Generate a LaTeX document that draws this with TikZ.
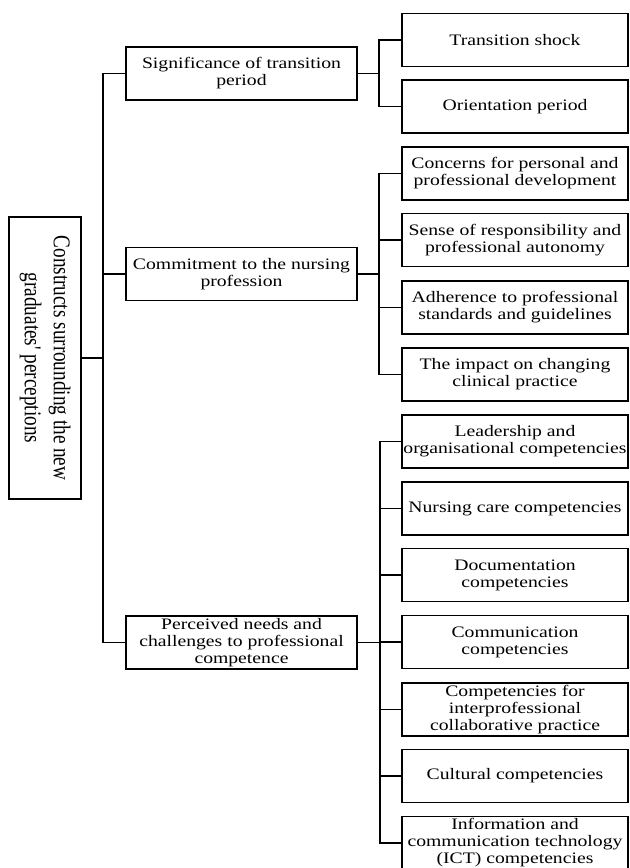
\documentclass[tikz,border=0pt]{standalone}
\usepackage{fontspec}
\setmainfont[FakeStretch=1.23]{Liberation Serif}
\newfontfamily\rootfont[FakeStretch=0.8]{Liberation Serif}
\usepackage{tikz}
\usetikzlibrary{positioning}
\tikzset{
  treebox/.style={draw,line width=1.1pt,align=center,inner sep=1pt,
    font=\fontsize{12}{12.75}\selectfont},
  rootbox/.style={treebox,rotate=-90,minimum width=211.5pt,minimum height=54pt,
    font=\rootfont\fontsize{18}{21.75}\selectfont},
  midbox/.style={treebox,minimum width=173.25pt,minimum height=40pt},
  leafbox/.style={treebox,minimum width=169.5pt,minimum height=40pt},
  branch/.style={line width=1.1pt}
}
\begin{document}
\begin{tikzpicture}[x=0.75pt,y=-0.75pt]
\useasboundingbox (0,0) rectangle (629,868);

\node[rootbox] (root) at (45,358) {Constructs surrounding the new\\graduates' perceptions};

\node[midbox] (sig) at (241.5,73.5) {Significance of transition\\period};
\node[midbox] (com) at (241.5,274) {Commitment to the nursing\\profession};
\node[midbox] (per) at (241.5,642.5) {Perceived needs and\\challenges to professional\\competence};

\node[leafbox] (shock) at (515,40) {Transition shock};
\node[leafbox] (orient) at (515,106.5) {Orientation period};

\node[leafbox] (concern) at (515,173.5) {Concerns for personal and\\professional development};
\node[leafbox] (sense) at (515,240) {Sense of responsibility and\\professional autonomy};
\node[leafbox] (adhere) at (515,307.5) {Adherence to professional\\standards and guidelines};
\node[leafbox] (impact) at (515,374.5) {The impact on changing\\clinical practice};

\node[leafbox] (lead) at (515,441.5) {Leadership and\\organisational competencies};
\node[leafbox] (nurse) at (515,508.5) {Nursing care competencies};
\node[leafbox] (docu) at (515,575) {Documentation\\competencies};
\node[leafbox] (commu) at (515,642) {Communication\\competencies};
\node[leafbox] (inter) at (515,709.5) {Competencies for\\interprofessional\\collaborative practice};
\node[leafbox] (cult) at (515,776) {Cultural competencies};
\node[leafbox] (ict) at (515,843) {Information and\\communication technology\\(ICT) competencies};

\coordinate (j0) at (103,358);
\coordinate (j1) at (379,73.5);
\coordinate (j2) at (379,274);
\coordinate (j3) at (380,642.5);

\draw[branch] (root.north) -- (j0);
\draw[branch] (sig.west) -| (j0) |- (per.west);
\draw[branch] (com.west) -- (com.west -| j0);

\draw[branch] (sig.east) -- (j1);
\draw[branch] (shock.west) -| (j1) |- (orient.west);

\draw[branch] (com.east) -- (j2);
\draw[branch] (concern.west) -| (j2) |- (impact.west);
\draw[branch] (sense.west) -- (sense.west -| j2);
\draw[branch] (adhere.west) -- (adhere.west -| j2);

\draw[branch] (per.east) -- (j3);
\draw[branch] (lead.west) -| (j3) |- (ict.west);
\draw[branch] (nurse.west) -- (nurse.west -| j3);
\draw[branch] (docu.west) -- (docu.west -| j3);
\draw[branch] (commu.west) -- (commu.west -| j3);
\draw[branch] (inter.west) -- (inter.west -| j3);
\draw[branch] (cult.west) -- (cult.west -| j3);
\end{tikzpicture}
\end{document}
